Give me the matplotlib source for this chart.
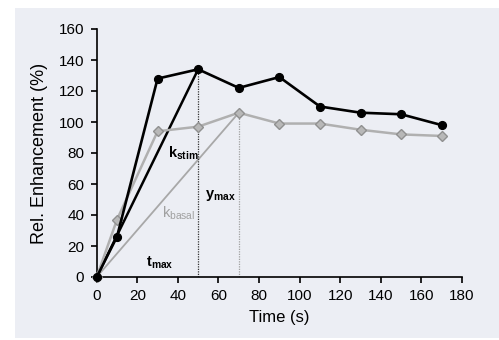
import matplotlib
matplotlib.use("Agg")
import matplotlib.pyplot as plt
from matplotlib.patches import Rectangle

plt.rcParams['font.family'] = ['Liberation Sans', 'DejaVu Sans']
plt.rcParams['mathtext.fontset'] = 'custom'
plt.rcParams['mathtext.rm'] = 'Liberation Sans'
plt.rcParams['mathtext.bf'] = 'Liberation Sans:bold'

# Data
time = [0, 10, 30, 50, 70, 90, 110, 130, 150, 170]
stim = [0, 26, 128, 134, 122, 129, 110, 106, 105, 98]
basal = [0, 37, 94, 97, 106, 99, 99, 95, 92, 91]
t_stim_max, y_stim_max = 50, 134
t_basal_max, y_basal_max = 70, 106
xticks = [0, 20, 40, 60, 80, 100, 120, 140, 160, 180]
yticks = [0, 20, 40, 60, 80, 100, 120, 140, 160]

fig = plt.figure(figsize=(4.99, 3.40), dpi=100)
fig.patch.set_facecolor('white')
fig.patches.append(Rectangle((15/499, 2/340), 1 - 15/499, 1 - 10/340,
                             transform=fig.transFigure, facecolor='#eceef4',
                             edgecolor='none', zorder=-10))
ax = fig.add_axes([96.7/499, (340-277)/340, (462-96.7)/499, (277-29)/340])
ax.set_facecolor('none')

ax.set_xlim(0, 180)
ax.set_ylim(0, 160)

# slope lines
ax.plot([0, t_basal_max], [0, y_basal_max], color='#a8a8a8', lw=1.3, zorder=2, clip_on=False)
ax.plot([0, t_stim_max], [0, y_stim_max], color='black', lw=1.8, zorder=3, clip_on=False)
# vertical dotted lines
ax.plot([t_stim_max, t_stim_max], [0, y_stim_max], color='#333333', lw=0.9, ls=(0, (1, 1)), zorder=2)
ax.plot([t_basal_max, t_basal_max], [0, y_basal_max], color='#a0a0a0', lw=0.9, ls=(0, (1, 1)), zorder=2)

# series
ax.plot(time, basal, color='#b0b0b0', lw=1.8, marker='D', markersize=5,
        markerfacecolor='#b8b8b8', markeredgecolor='#909090', zorder=4, clip_on=False)
ax.plot(time, stim, color='black', lw=1.9, marker='o', markersize=5.6,
        markerfacecolor='black', zorder=5, clip_on=False)

# annotations
ax.text(35.0, 77, r'$\mathbf{k_{stim}}$', fontsize=10.5, color='black', ha='left', va='baseline')
ax.text(53.3, 51, r'$\mathbf{y_{max}}$', fontsize=10.5, color='black', ha='left', va='baseline')
ax.text(32.0, 38, r'$\mathrm{k_{basal}}$', fontsize=10.5, color='#a0a0a0', ha='left', va='baseline')
ax.text(24.5, 7, r'$\mathbf{t_{max}}$', fontsize=10.5, color='black', ha='left', va='baseline')

for s in ['top', 'right']:
    ax.spines[s].set_visible(False)
for s in ['left', 'bottom']:
    ax.spines[s].set_linewidth(1.2)

ax.set_xticks(xticks)
ax.set_yticks(yticks)
ax.tick_params(direction='out', length=4, width=1.2, labelsize=11, pad=5)
ax.set_xlabel('Time (s)', fontsize=12, labelpad=5)
ax.set_ylabel('Rel. Enhancement (%)', fontsize=13, labelpad=8)

fig.savefig('out.png', dpi=100, facecolor=fig.get_facecolor())
